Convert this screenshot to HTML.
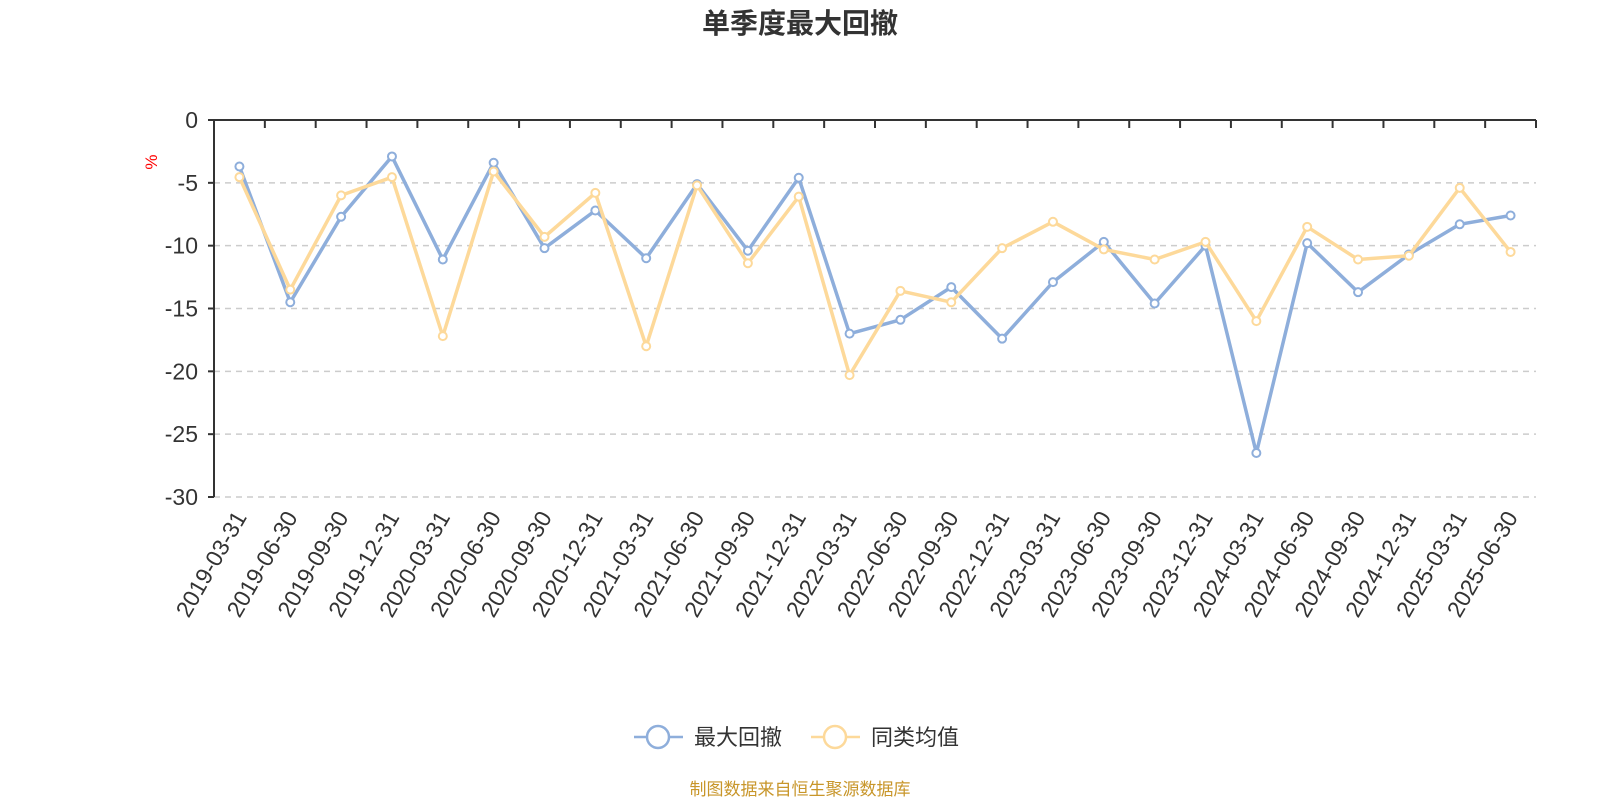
<!DOCTYPE html>
<html><head><meta charset="utf-8"><style>
body{margin:0;background:#fff;}
svg text{font-family:"Liberation Sans","Noto Sans CJK SC",sans-serif;}
</style></head><body>
<svg id="c" width="1600" height="800" viewBox="0 0 1600 800">
<text x="800" y="33" text-anchor="middle" font-size="28" font-weight="bold" fill="#333">单季度最大回撤</text>
<text transform="translate(157,162) rotate(-90)" text-anchor="middle" font-size="17" fill="red">%</text>
<g id="grid"></g><g id="axes"></g><g id="series"></g>
<g>
<g>
<line x1="634" y1="737" x2="683" y2="737" stroke="#8eaedb" stroke-width="2.5"/>
<circle cx="658" cy="737" r="11" fill="#fff" stroke="#8eaedb" stroke-width="2.5"/>
<text x="694" y="745" font-size="22" fill="#333">最大回撤</text></g>
<g>
<line x1="811" y1="737" x2="860" y2="737" stroke="#fdd99a" stroke-width="2.5"/>
<circle cx="835" cy="737" r="11" fill="#fff" stroke="#fdd99a" stroke-width="2.5"/>
<text x="871" y="745" font-size="22" fill="#333">同类均值</text></g>
</g>
<text x="800" y="795" text-anchor="middle" font-size="17" fill="#c8962a">制图数据来自恒生聚源数据库</text>
</svg>
<script>
const categories=["2019-03-31","2019-06-30","2019-09-30","2019-12-31","2020-03-31","2020-06-30","2020-09-30","2020-12-31","2021-03-31","2021-06-30","2021-09-30","2021-12-31","2022-03-31","2022-06-30","2022-09-30","2022-12-31","2023-03-31","2023-06-30","2023-09-30","2023-12-31","2024-03-31","2024-06-30","2024-09-30","2024-12-31","2025-03-31","2025-06-30"];
const maxDrawdown=[-3.7,-14.5,-7.7,-2.9,-11.1,-3.4,-10.2,-7.2,-11.0,-5.1,-10.4,-4.6,-17.0,-15.9,-13.3,-17.4,-12.9,-9.7,-14.6,-10.0,-26.5,-9.8,-13.7,-10.7,-8.3,-7.6];
const peerAverage=[-4.55,-13.5,-6.0,-4.55,-17.2,-4.1,-9.3,-5.8,-18.0,-5.2,-11.4,-6.1,-20.3,-13.6,-14.5,-10.2,-8.1,-10.3,-11.1,-9.7,-16.0,-8.5,-11.1,-10.8,-5.4,-10.5];
const yTicks=[0,-5,-10,-15,-20,-25,-30];
const NS="http://www.w3.org/2000/svg";
const L=214,R=1536,T=120,B=497;
const bw=(R-L)/categories.length;
const x=i=>L+bw*(i+0.5);
const y=v=>T+(0-v)/30*(B-T);
function mk(tag,attrs,parent){const e=document.createElementNS(NS,tag);for(const k in attrs)e.setAttribute(k,attrs[k]);parent.appendChild(e);return e;}
const grid=document.getElementById('grid'),axes=document.getElementById('axes'),ser=document.getElementById('series');
yTicks.forEach(v=>{
  if(v!==0){const g=mk('line',{x1:L,x2:R,y1:y(v),y2:y(v),stroke:'#ccc','stroke-width':1.5,'stroke-dasharray':'6,5'},grid);
  
  }
  const t=mk('text',{x:L-16,y:y(v)+8,'text-anchor':'end','font-size':23,fill:'#333'},axes);
  t.textContent=v;
  
  
  mk('line',{x1:L-6,x2:L,y1:y(v),y2:y(v),stroke:'#333','stroke-width':2},axes);
});
const ya=mk('line',{x1:L,x2:L,y1:T,y2:B,stroke:'#333','stroke-width':2},axes);


const xa=mk('line',{x1:L,x2:R,y1:T,y2:T,stroke:'#333','stroke-width':2},axes);


for(let i=0;i<=categories.length;i++){mk('line',{x1:L+bw*i,x2:L+bw*i,y1:T,y2:T+8,stroke:'#333','stroke-width':2},axes);}
categories.forEach((c,i)=>{
  const t=mk('text',{transform:`translate(${x(i)+8},${B+20}) rotate(-60)`,'text-anchor':'end','font-size':23,fill:'#333'},axes);
  t.textContent=c;
  
  
});
function series(data,color,name){
  const g=mk('g',{},ser);
  
  
  mk('polyline',{points:data.map((v,i)=>x(i)+','+y(v)).join(' '),fill:'none',stroke:color,'stroke-width':3.5,'stroke-linejoin':'round'},g);
  data.forEach((v,i)=>{const p=mk('circle',{cx:x(i),cy:y(v),r:4,fill:'#fff',stroke:color,'stroke-width':2},g);
    
    });
}
series(maxDrawdown,'#8eaedb','max-drawdown-line');
series(peerAverage,'#fdd99a','peer-average-line');
</script>
</body></html>
